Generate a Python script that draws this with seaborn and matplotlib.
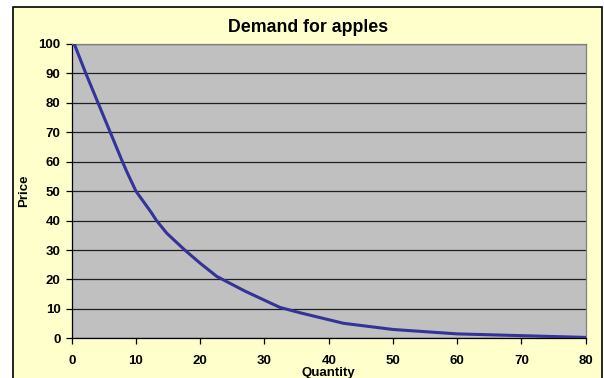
import matplotlib
matplotlib.use("Agg")
import matplotlib.pyplot as plt
import seaborn as sns
import pandas as pd
from matplotlib.patches import Rectangle

# demand curve
quantity = [0.4, 2.2, 4.1, 6.0, 7.9, 8.6, 10.0, 12.4, 13.2, 14.8, 17.6, 20.0, 22.6, 27.0, 32.4, 35.5, 42.3, 50.0, 60.0, 70.0, 80.0]
price = [100, 90, 80, 70, 60, 56.5, 50, 42.7, 40, 35.7, 30, 25.5, 21, 16, 10.5, 8.7, 5.1, 3.0, 1.5, 0.9, 0.3]
x_ticks = [0, 10, 20, 30, 40, 50, 60, 70, 80]
y_ticks = [0, 10, 20, 30, 40, 50, 60, 70, 80, 90, 100]

df = pd.DataFrame({"Quantity": quantity, "Price": price})

sns.set_style("white")
plt.rcParams["font.family"] = ["Liberation Sans", "DejaVu Sans"]
plt.rcParams["text.color"] = "black"
plt.rcParams["axes.labelcolor"] = "black"
plt.rcParams["xtick.color"] = "black"
plt.rcParams["ytick.color"] = "black"

fig = plt.figure(figsize=(6.04, 3.78), dpi=100, facecolor="white")

# yellow chart area with black border
fig.patches.append(Rectangle((13 / 604, -0.01), (602 - 13) / 604, (378 - 7) / 378 + 0.01,
                             transform=fig.transFigure, facecolor="#FFFFCC",
                             edgecolor="black", linewidth=1.2, zorder=-5))

ax = fig.add_axes([71.7 / 604, (378 - 338.3) / 378, 514 / 604, 294.3 / 378])
ax.set_zorder(1)
ax.set_facecolor("#C0C0C0")

sns.lineplot(data=df, x="Quantity", y="Price", sort=False, estimator=None,
             color="#333399", linewidth=2.2, ax=ax, zorder=3)

ax.set_xlim(0, 80)
ax.set_ylim(0, 100)
ax.set_xticks(x_ticks)
ax.set_yticks(y_ticks)
ax.yaxis.grid(True, color="#202020", linewidth=0.9)
ax.xaxis.grid(False)
ax.set_axisbelow(True)

for side in ["left", "bottom"]:
    ax.spines[side].set_color("black")
    ax.spines[side].set_linewidth(0.9)
for side in ["top", "right"]:
    ax.spines[side].set_color("#808080")
    ax.spines[side].set_linewidth(0.9)

ax.tick_params(axis="both", direction="out", length=4, width=0.9, color="black",
               labelsize=9.5, pad=4, bottom=True, left=True)
ax.tick_params(axis="x", pad=8)
for lab in ax.get_xticklabels() + ax.get_yticklabels():
    lab.set_fontweight("bold")

ax.set_xlabel("Quantity", fontsize=9.5, fontweight="bold", labelpad=0)
ax.set_ylabel("Price", fontsize=9.5, fontweight="bold", labelpad=6)

fig.text(308 / 604, 1 - 28 / 378, "Demand for apples", ha="center", va="center",
         fontsize=12.8, fontweight="bold")

fig.savefig("out.png", dpi=100, facecolor="white")
